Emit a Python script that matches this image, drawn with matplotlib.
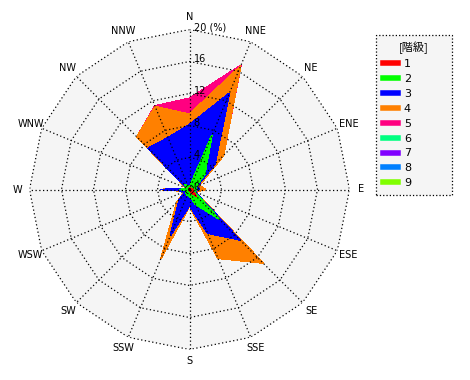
import numpy as np
import matplotlib.pyplot as plt
from matplotlib.lines import Line2D

# 16方位 (北から時計回り)
directions = ['N', 'NNE', 'NE', 'ENE', 'E', 'ESE', 'SE', 'SSE',
              'S', 'SSW', 'SW', 'WSW', 'W', 'WNW', 'NW', 'NNW']
classes = ['1', '2', '3', '4', '5', '6', '7', '8', '9']
colors = ['#ff0000', '#00ff00', '#0000ff', '#ff8000', '#ff0080',
          '#00ff80', '#8000ff', '#0080ff', '#80ff00']

# 階級ごとの出現率 (%)
class1 = [0.1, 0.2, 0.2, 0.2, 0.5, 0.4, 1.2, 0.3, 0.1, 0.1, 0.1, 0.1, 0.1, 0.1, 0.1, 0.1]
class2 = [0.2, 7.1, 2.5, 0.6, 0.4, 0.2, 4.0, 1.7, 0.7, 0.7, 0.5, 0.2, 1.1, 0.2, 0.7, 0.4]
class3 = [7.8, 5.7, 1.8, 0.2, 0.3, 0.1, 3.7, 3.9, 1.2, 5.4, 1.2, 0.2, 2.4, 0.0, 6.5, 6.5]
class4 = [1.3, 3.7, 1.5, 0.3, 0.8, 0.1, 4.1, 3.4, 0.1, 3.1, 0.4, 0.1, 0.0, 0.1, 2.0, 4.2]
class5 = [2.0, 0.1, 0.0, 0.0, 0.0, 0.0, 0.0, 0.0, 0.0, 0.0, 0.0, 0.0, 0.0, 0.0, 0.0, 0.1]
class6 = [0.0] * 16
class7 = [0.0] * 16
class8 = [0.0] * 16
class9 = [0.0] * 16

rings = [4, 8, 12, 16, 20]

data = np.array([class1, class2, class3, class4, class5,
                 class6, class7, class8, class9])
cum = np.cumsum(data, axis=0)

theta = np.arange(16) * 2 * np.pi / 16
theta_c = np.append(theta, theta[0])

fig = plt.figure(figsize=(4.7, 3.8), dpi=100)
ax = fig.add_axes([29.5 / 470, 30.5 / 380, 320 / 470, 320 / 380], polar=True)
ax.set_theta_zero_location('N')
ax.set_theta_direction(-1)
ax.set_ylim(0, 20)
ax.grid(False)
ax.set_xticks([])
ax.set_yticks([])
ax.spines['polar'].set_visible(False)
ax.patch.set_alpha(0)

# 背景
ax.fill(theta_c, [20] * 17, color='#f5f5f5', lw=0, zorder=0)

# 積み上げ (大きい方から描く)
for k in range(8, -1, -1):
    if data[k].max() == 0:
        continue
    r = np.append(cum[k], cum[k][0])
    ax.fill(theta_c, r, facecolor=colors[k], edgecolor=colors[k], lw=0.5,
            antialiased=False, zorder=1)

# グリッド
dots = (0, (1, 2))
for rr in rings:
    ax.plot(theta_c, [rr] * 17, color='black', lw=0.9, ls=dots, zorder=3)
for t in theta:
    ax.plot([t, t], [0, 20], color='black', lw=0.9, ls=dots, zorder=3)

for rr in rings:
    lbl = '20 (%)' if rr == 20 else str(rr)
    ax.annotate(lbl, xy=(0, rr), xytext=(3, 1.5), textcoords='offset points',
                ha='left', va='center', fontsize=7, zorder=4)
ax.annotate('0', xy=(0, 0), xytext=(3, 1.5), textcoords='offset points',
            ha='left', va='center', fontsize=7, zorder=4)

for t, d in zip(theta, directions):
    ax.text(t, 21.5, d, ha='center', va='center', fontsize=7, clip_on=False)

handles = [Line2D([], [], color=c, lw=4) for c in colors]
leg = fig.legend(handles, classes, loc='upper left',
                 bbox_to_anchor=(376 / 470, 1 - 196 / 380, 76 / 470, 161 / 380),
                 mode='expand', fontsize=8, title='[階級]', title_fontsize=8,
                 frameon=True, handlelength=1.4, handletextpad=0.5,
                 labelspacing=0.44, borderpad=0.6, borderaxespad=0, fancybox=False)
leg.get_title().set_family(['Noto Sans CJK JP', 'DejaVu Sans'])
frame = leg.get_frame()
frame.set_facecolor('#f5f5f5')
frame.set_edgecolor('black')
frame.set_linestyle(':')
frame.set_linewidth(0.9)
frame.set_alpha(1)

fig.savefig('out.png', dpi=100)
